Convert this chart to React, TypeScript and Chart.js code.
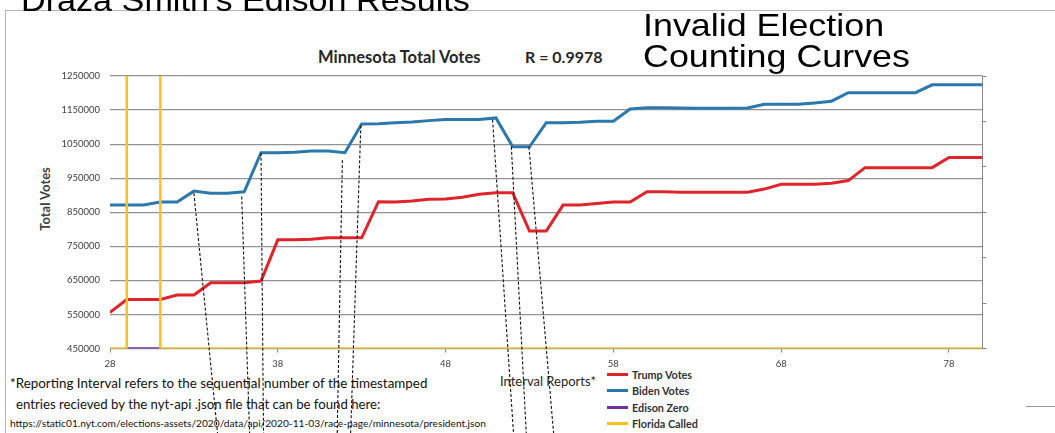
import React, { useEffect, useRef } from 'react';
import { Chart, registerables } from 'chart.js';

Chart.register(...registerables);

// ---- data ----
const intervals = [
  28, 29, 30, 31, 32, 33, 34, 35, 36, 37, 38, 39, 40, 41, 42, 43, 44, 45,
  46, 47, 48, 49, 50, 51, 52, 53, 54, 55, 56, 57, 58, 59, 60, 61, 62, 63,
  64, 65, 66, 67, 68, 69, 70, 71, 72, 73, 74, 75, 76, 77, 78, 79, 80,
];

const trumpVotes = [
  556000, 594000, 594000, 594000, 607000, 607000, 643000, 643000, 643000, 648000,
  769000, 769000, 771000, 775000, 775000, 775000, 881000, 880000, 883000, 888000,
  889000, 894000, 903000, 907000, 907000, 795000, 795000, 871000, 871000, 876000,
  880000, 880000, 910000, 910000, 909000, 909000, 909000, 909000, 909000, 918000,
  932000, 932000, 932000, 935000, 943000, 981000, 981000, 981000, 981000, 981000,
  1011000, 1011000, 1011000,
];

const bidenVotes = [
  871000, 871000, 871000, 880000, 880000, 912000, 906000, 906000, 910000, 1025000,
  1025000, 1026000, 1030000, 1030000, 1025000, 1109000, 1110000, 1113000, 1115000, 1119000,
  1122000, 1122000, 1122000, 1127000, 1042000, 1042000, 1113000, 1113000, 1114000, 1117000,
  1117000, 1153000, 1157000, 1157000, 1156000, 1155000, 1155000, 1155000, 1156000, 1167000,
  1167000, 1167000, 1171000, 1176000, 1201000, 1201000, 1201000, 1201000, 1201000, 1224000,
  1224000, 1224000, 1224000,
];

const edisonZeroX = [29, 31];
const edisonZeroY = [450000, 450000];

const floridaX = [28, 29, 29, 30, 31, 31, 80];
const floridaY = [450000, 450000, 1250000, null, 1250000, 450000, 450000];

// dashed annotation lines (start on the curves, end below the chart)
const dashStartX = [33, 35.85, 37, 41.85, 42.95, 50.8, 51.92, 52.97];
const dashStartY = [906000, 896000, 1025000, 1003000, 1105000, 1122000, 1042000, 1042000];
const dashEndX = [34.41, 36.32, 37.15, 41.54, 42.34, 52.05, 52.81, 54.44];
const dashEndY = [200000, 200000, 200000, 200000, 200000, 200000, 200000, 200000];

const xTickValues = [28, 38, 48, 58, 68, 78];
const yTickValues = [450000, 550000, 650000, 750000, 850000, 950000, 1050000, 1150000, 1250000];
const y2TickValues = [0, 1, 2, 3, 4, 5, 6];

const legendLabels = ['Trump Votes', 'Biden Votes', 'Edison Zero', 'Florida Called'];
const legendColors = ['#e0242b', '#2b78ad', '#7030a0', '#f6c31c'];

const FONT = 'Lato, "Open Sans", sans-serif';

export default function App() {
  const ref = useRef<HTMLCanvasElement | null>(null);

  useEffect(() => {
    const canvas = ref.current;
    if (!canvas) return;
    const datasets: any[] = [];
    dashStartX.forEach((sx, k) => {
      datasets.push({
        label: 'dash' + k,
        data: [
          { x: sx, y: dashStartY[k] },
          { x: dashEndX[k], y: dashEndY[k] },
        ],
        borderColor: '#111111',
        borderWidth: 1.1,
        borderDash: [3, 2],
        pointRadius: 0,
        clip: false,
        order: 0,
      });
    });
    datasets.push({
      label: legendLabels[3],
      data: floridaX.map((x, i) => ({ x, y: floridaY[i] })),
      borderColor: legendColors[3],
      borderWidth: 2.5,
      pointRadius: 0,
      spanGaps: false,
      order: 1,
    });
    datasets.push({
      label: legendLabels[2],
      data: edisonZeroX.map((x, i) => ({ x, y: edisonZeroY[i] })),
      borderColor: legendColors[2],
      borderWidth: 2.5,
      pointRadius: 0,
      order: 2,
    });
    datasets.push({
      label: legendLabels[1],
      data: intervals.map((x, i) => ({ x, y: bidenVotes[i] })),
      borderColor: legendColors[1],
      borderWidth: 3,
      pointRadius: 0,
      order: 3,
    });
    datasets.push({
      label: legendLabels[0],
      data: intervals.map((x, i) => ({ x, y: trumpVotes[i] })),
      borderColor: legendColors[0],
      borderWidth: 3,
      pointRadius: 0,
      order: 4,
    });

    const chart = new Chart(canvas, {
      type: 'line',
      data: { datasets },
      options: {
        responsive: false,
        animation: false,
        layout: { padding: { left: 0, top: 76, right: 66.5, bottom: 54.5 } },
        plugins: {
          legend: { display: false },
          tooltip: { enabled: false },
          title: { display: false },
        },
        elements: { line: { tension: 0 }, point: { radius: 0 } },
        scales: {
          x: {
            type: 'linear',
            min: 28,
            max: 80,
            afterBuildTicks: (s: any) => {
              s.ticks = xTickValues.map((v) => ({ value: v }));
            },
            afterFit: (s: any) => {
              s.height = 30;
            },
            grid: { drawOnChartArea: false, drawTicks: true, tickLength: 4, color: '#8a8a8a' },
            border: { display: true, color: '#9a9a9a', width: 1 },
            ticks: {
              font: { family: FONT, size: 9.5 },
              color: '#404040',
              padding: 6,
              maxRotation: 0,
              autoSkip: false,
              callback: (v: any) => String(v),
            },
          },
          y: {
            type: 'linear',
            min: 450000,
            max: 1250000,
            afterBuildTicks: (s: any) => {
              s.ticks = yTickValues.map((v) => ({ value: v }));
            },
            afterFit: (s: any) => {
              s.width = 110;
            },
            grid: { color: '#939393', lineWidth: 1.2, drawTicks: false },
            border: { display: false },
            ticks: {
              font: { family: FONT, size: 9.5 },
              color: '#404040',
              padding: 10,
              callback: (v: any) => String(v),
            },
          },
          y2: {
            type: 'linear',
            display: true,
            position: 'right',
            min: 0,
            max: 6,
            afterBuildTicks: (s: any) => {
              s.ticks = y2TickValues.map((v) => ({ value: v }));
            },
            afterFit: (s: any) => {
              s.width = 6;
            },
            grid: { drawOnChartArea: false, drawTicks: true, tickLength: 4, color: '#8a8a8a' },
            border: { display: true, color: '#8a8a8a', width: 1 },
            ticks: { display: false },
          },
        },
      },
    });
    return () => chart.destroy();
  }, []);

  const abs = (style: React.CSSProperties): React.CSSProperties => ({
    position: 'absolute',
    whiteSpace: 'nowrap',
    ...style,
  });

  return (
    <div
      style={{
        position: 'fixed',
        left: 0,
        top: 0,
        width: 1055,
        height: 433,
        overflow: 'hidden',
        background: '#ffffff',
        fontFamily: FONT,
      }}
    >
      {/* Excel chart frame */}
      <div
        style={abs({
          left: 5,
          top: 10,
          width: 1200,
          height: 600,
          borderLeft: '1px solid #b4b4b4',
          borderTop: '1px solid #b4b4b4',
        })}
      />
      <div style={abs({ left: 1026, top: 406, width: 40, height: 0, borderTop: '1px solid #9a9a9a' })} />

      {/* titles */}
      <div
        style={abs({
          left: 318,
          top: 47,
          fontSize: 16.5,
          fontWeight: 700,
          color: '#262626',
          lineHeight: '20px',
        })}
      >
        Minnesota Total Votes
      </div>
      <div
        style={abs({
          left: 525,
          top: 47,
          fontSize: 16,
          fontWeight: 700,
          color: '#262626',
          lineHeight: '20px',
        })}
      >
        R = 0.9978
      </div>
      <div
        style={abs({
          left: 45,
          top: 199,
          transform: 'translate(-50%, -50%) rotate(-90deg)',
          fontSize: 13,
          fontWeight: 700,
          color: '#404040',
          lineHeight: '16px',
        })}
      >
        Total Votes
      </div>
      <div style={abs({ left: 500, top: 373, fontSize: 13, color: '#262626', lineHeight: '16px' })}>
        Interval Reports*
      </div>

      {/* footnote */}
      <div style={abs({ left: 10, top: 375, fontSize: 13.4, color: '#111', lineHeight: '16px' })}>
        *Reporting Interval refers to the sequential number of the timestamped
      </div>
      <div style={abs({ left: 16, top: 396, fontSize: 13.2, color: '#111', lineHeight: '16px' })}>
        entries recieved by the nyt-api .json file that can be found here:
      </div>
      <div style={abs({ left: 10, top: 417, fontSize: 10.2, color: '#111', lineHeight: '12px' })}>
        https://static01.nyt.com/elections-assets/2020/data/api/2020-11-03/race-page/minnesota/president.json
      </div>

      {/* legend */}
      {legendLabels.map((lab, i) => (
        <div key={lab} style={abs({ left: 607, top: 367 + i * 16.4, height: 15, display: 'flex', alignItems: 'center' })}>
          <div style={{ width: 21, height: 3, background: legendColors[i], marginRight: 4 }} />
          <span style={{ fontSize: 10.8, fontWeight: 700, color: '#333' }}>{lab}</span>
        </div>
      ))}

      <canvas ref={ref} width={1055} height={433} style={{ position: 'absolute', left: 0, top: 0 }} />

      {/* overlay captions */}
      <div
        style={abs({
          left: 21,
          top: -15,
          fontFamily: '"Liberation Sans", Arial, sans-serif',
          fontSize: 30.5,
          lineHeight: '30px',
          color: '#000',
          transform: 'scaleX(1.12)',
          transformOrigin: 'left top',
        })}
      >
        Draza Smith's Edison Results
      </div>
      <div
        style={abs({
          left: 643,
          top: 10.4,
          fontFamily: '"Liberation Sans", Arial, sans-serif',
          fontSize: 32,
          lineHeight: '31px',
          color: '#000',
          transform: 'scaleX(1.12)',
          transformOrigin: 'left top',
        })}
      >
        Invalid Election
        <br />
        Counting Curves
      </div>
    </div>
  );
}
